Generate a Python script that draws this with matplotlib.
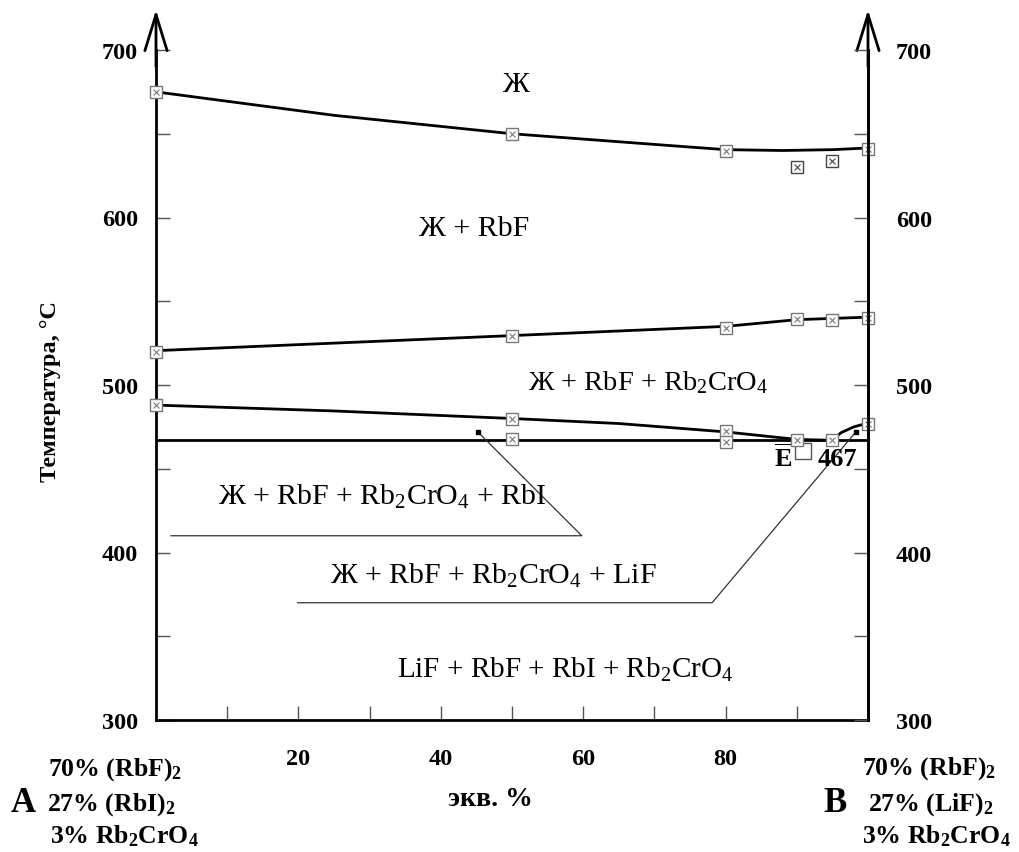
import matplotlib
matplotlib.use("Agg")
import matplotlib.pyplot as plt

plt.rcParams['font.family'] = ['Liberation Serif', 'DejaVu Serif']
plt.rcParams['mathtext.fontset'] = 'custom'
plt.rcParams['mathtext.rm'] = 'Liberation Serif'
plt.rcParams['mathtext.it'] = 'Liberation Serif:italic'
plt.rcParams['mathtext.bf'] = 'Liberation Serif:bold'

# ---- data ----
# curve nodes (line)
liq_x = [0, 25, 50, 72, 80, 88, 95, 100]
liq_y = [675, 661, 650, 643, 640.5, 640, 640.5, 641.5]
sec_x = [0, 50, 80, 90, 100]
sec_y = [520.5, 529.5, 535, 539, 540.5]
ter_x = [0, 25, 50, 65, 80, 90, 95, 96.2, 98, 100]
ter_y = [488, 484.5, 480, 477, 472, 467.5, 467, 471.5, 475, 477.3]
eut_T = 467

# experimental points
liq_px = [0, 50, 80, 100]
liq_pt = [675, 650, 640, 641]
liq_extra_x = [90, 95]
liq_extra_y = [630, 634]
sec_px = [0, 50, 80, 90, 95, 100]
sec_pt = [520, 529, 534, 539.5, 539, 540]
ter_px = [0, 50, 80, 90, 95, 100]
ter_pt = [488, 480, 472.5, 467, 467, 477]
eut_px = [50, 80]
eut_pt = [467.5, 466]

# leader lines
lead1_x = [45.2, 59.8, 2.1]
lead1_y = [472, 410, 410]
lead2_x = [98.3, 78.1, 19.9]
lead2_y = [472, 370, 370]

x_major = [10, 20, 30, 40, 50, 60, 70, 80, 90, 100]
x_labels = ['', '20', '', '40', '', '60', '', '80', '', '']
y_major = [300, 400, 500, 600, 700]
y_minor = [350, 450, 550, 650]

fig = plt.figure(figsize=(10.19, 8.53), dpi=100)
ax = fig.add_axes([156/1019, 1-721/853, 712/1019, 670/853])
ax.set_xlim(0, 100)
ax.set_ylim(300, 700)

ax.spines['top'].set_visible(False)
for s in ['left', 'right', 'bottom']:
    ax.spines[s].set_linewidth(2.0)

# arrows on the vertical axes
for xa in (0, 100):
    ax.annotate('', xy=(xa, 724), xytext=(xa, 690), xycoords='data',
                arrowprops=dict(arrowstyle='->,head_length=1.3,head_width=0.4',
                                lw=2.0, color='black', mutation_scale=20,
                                shrinkA=0, shrinkB=0),
                annotation_clip=False)

tfs = 17.5
ax.set_xticks(x_major)
ax.set_xticklabels(x_labels, fontsize=tfs, fontweight='bold')
ax.tick_params(axis='x', direction='in', length=10, width=1, color='#555555', pad=20)
ax.set_yticks(y_major)
ax.set_yticklabels([str(v) for v in y_major], fontsize=tfs, fontweight='bold')
ax.set_yticks(y_minor, minor=True)
ax.tick_params(axis='y', which='both', direction='in', length=10, width=1,
               color='#555555', pad=13)

ax2 = ax.twinx()
ax2.set_ylim(300, 700)
ax2.spines['top'].set_visible(False)
ax2.spines['left'].set_visible(False)
ax2.spines['bottom'].set_visible(False)
ax2.spines['right'].set_linewidth(2.0)
ax2.set_yticks(y_major)
ax2.set_yticklabels([str(v) for v in y_major], fontsize=tfs, fontweight='bold')
ax2.set_yticks(y_minor, minor=True)
ax2.tick_params(axis='y', which='both', direction='in', length=10, width=1,
                color='#555555', pad=20)

# curves
ax.plot(liq_x, liq_y, color='black', lw=2.0)
ax.plot(sec_x, sec_y, color='black', lw=2.0)
ax.plot(ter_x, ter_y, color='black', lw=2.0)
ax.plot([0, 100], [eut_T, eut_T], color='black', lw=2.0)

# points
def pts(xs, ys, col='#777777'):
    ax.plot(xs, ys, ls='none', marker='s', ms=8, mfc='white', mec=col, mew=1.0,
            clip_on=False, zorder=5)
    ax.plot(xs, ys, ls='none', marker='x', ms=5, mec=col, mew=0.8,
            clip_on=False, zorder=6)

pts(liq_px, liq_pt)
pts(liq_extra_x, liq_extra_y, col='#444444')
pts(sec_px, sec_pt)
pts(ter_px, ter_pt)
pts(eut_px, eut_pt)

# leader lines
ax.plot(lead1_x, lead1_y, color='#333333', lw=0.9)
ax.plot(lead2_x, lead2_y, color='#333333', lw=0.9)
ax.plot([lead1_x[0], lead2_x[0]], [lead1_y[0], lead2_y[0]], ls='none', marker='s',
        ms=3, color='black')

# region labels
fs = 21.5
ax.text(48.7, 675.5, 'Ж', fontsize=fs, ha='left', va='baseline')
ax.text(44.7, 589.6, 'Ж + RbF', fontsize=fs, ha='center', va='baseline')
ax.text(52.3, 497.6, 'Ж + RbF + Rb$_2$CrO$_4$', fontsize=20.5, ha='left', va='baseline')
ax.text(8.7, 429, 'Ж + RbF + Rb$_2$CrO$_4$ + RbI', fontsize=fs, ha='left', va='baseline')
ax.text(24.4, 381.8, 'Ж + RbF + Rb$_2$CrO$_4$ + LiF', fontsize=fs, ha='left', va='baseline')
ax.text(33.8, 325.7, 'LiF + RbF + RbI + Rb$_2$CrO$_4$', fontsize=21, ha='left', va='baseline')

# eutectic label
ax.text(88.2, 452, r'$\overline{\mathbf{E}}$', fontsize=19, ha='center', va='baseline')
ax.plot([90.9], [460.5], ls='none', marker='s', ms=11, mfc='white', mec='#555555', mew=1.0)
ax.text(92.9, 452, '467', fontsize=19, fontweight='bold', ha='left', va='baseline')

# axis titles
fig.text(51/1019, 1-392/853, 'Температура, °С', rotation=90, fontsize=17.5,
         fontweight='bold', ha='center', va='center')
fig.text(490/1019, 1-800/853, 'экв. %', fontsize=20, fontweight='bold',
         ha='center', va='center')

# component labels
bfs = 18.5
fig.text(48/1019, 1-776/853, '70% (RbF)$_\\mathbf{2}$', fontsize=bfs, fontweight='bold', ha='left', va='baseline')
fig.text(11/1019, 1-812/853, 'A', fontsize=25, fontweight='bold', ha='left', va='baseline')
fig.text(47/1019, 1-811/853, '27% (RbI)$_\\mathbf{2}$', fontsize=bfs, fontweight='bold', ha='left', va='baseline')
fig.text(50/1019, 1-843/853, '3% Rb$_\\mathbf{2}$CrO$_\\mathbf{4}$', fontsize=bfs, fontweight='bold', ha='left', va='baseline')

fig.text(862/1019, 1-775/853, '70% (RbF)$_\\mathbf{2}$', fontsize=bfs, fontweight='bold', ha='left', va='baseline')
fig.text(823/1019, 1-812/853, 'B', fontsize=25, fontweight='bold', ha='left', va='baseline')
fig.text(868/1019, 1-811/853, '27% (LiF)$_\\mathbf{2}$', fontsize=bfs, fontweight='bold', ha='left', va='baseline')
fig.text(862/1019, 1-843/853, '3% Rb$_\\mathbf{2}$CrO$_\\mathbf{4}$', fontsize=bfs, fontweight='bold', ha='left', va='baseline')

fig.savefig('out.png', dpi=100)
